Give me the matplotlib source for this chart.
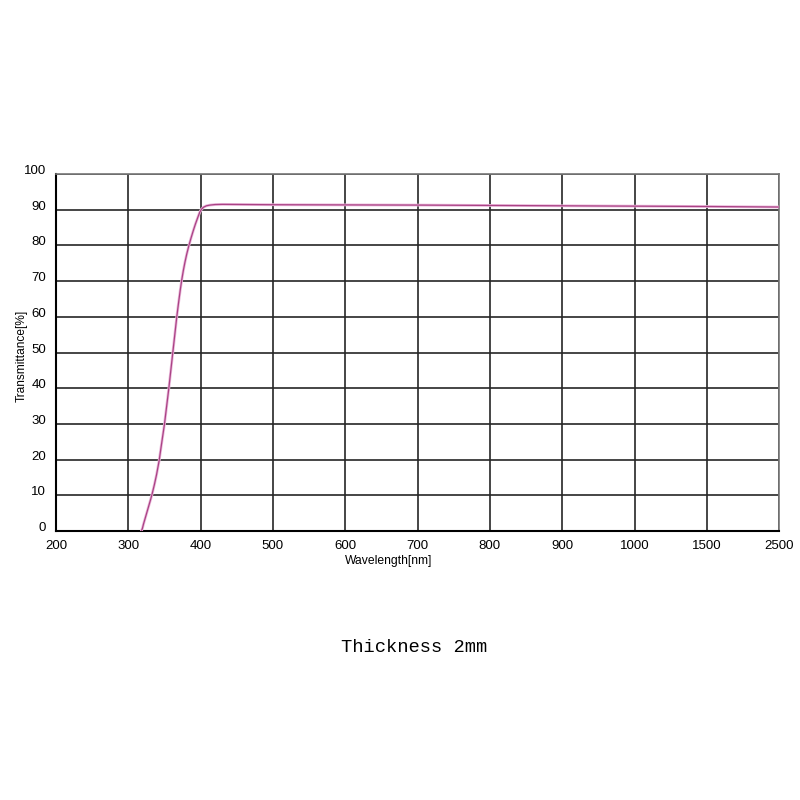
"""
Transmittance curve of a 2mm thick window, on an evenly spaced wavelength axis.
"""

import matplotlib
matplotlib.use('Agg')
import matplotlib.pyplot as plt
import matplotlib.transforms as mtransforms
import numpy as np

# axis ticks (evenly spaced on the chart, values are not linear)
tick_wavelengths = [200, 300, 400, 500, 600, 700, 800, 900, 1000, 1500, 2500]
tick_labels = ['200', '300', '400', '500', '600', '700', '800', '900', '1000', '1500', '2500']
y_ticks = [0, 10, 20, 30, 40, 50, 60, 70, 80, 90, 100]

# curve
wavelength = [318, 319.5, 321, 323, 325, 327, 329, 331, 333, 336, 339, 342.5,
              346, 350, 356, 361.5, 367, 369.5, 371.8, 374, 376.1, 378.3,
              380.8, 383.8, 386.6, 389.6, 392.8, 396, 398.6, 401, 404, 408,
              413, 420, 430, 500, 600, 700, 800, 900, 1000, 1500, 2500]
transmittance = [0, 0.8, 2.0, 3.4, 4.8, 6.2, 7.6, 9.0, 10.5, 13, 15.8, 19.6,
                 24.5, 30, 40, 50, 60, 64, 67.5, 70.5, 73, 75.3,
                 77.6, 80, 82, 84, 86, 87.8, 89.2, 90.1, 90.7, 91.1,
                 91.3, 91.45, 91.5, 91.4, 91.35, 91.3, 91.2, 91.1, 91.0, 90.9, 90.75]


def forward(x):
    return np.interp(x, tick_wavelengths, np.arange(len(tick_wavelengths)))


def inverse(x):
    return np.interp(x, np.arange(len(tick_wavelengths)), tick_wavelengths)


fig = plt.figure(figsize=(8, 8), dpi=100)
ax = fig.add_axes([0.07, 0.336, 0.904, 0.4465])

ax.set_xscale('function', functions=(forward, inverse))
ax.set_xlim(200, 2500)
ax.set_ylim(0, 100)

ax.set_xticks(tick_wavelengths)
ax.set_xticklabels(tick_labels, fontsize=9.5, family='Liberation Sans')
ax.set_yticks(y_ticks)
ax.set_yticklabels([str(v) for v in y_ticks], fontsize=9.5, family='Liberation Sans')
ax.tick_params(axis='both', length=0)
ax.tick_params(axis='x', pad=6)
ax.tick_params(axis='y', pad=7)

# y labels sit just above their grid line
shift = mtransforms.ScaledTranslation(0, 0.045, fig.dpi_scale_trans)
for lab in ax.get_yticklabels():
    lab.set_transform(lab.get_transform() + shift)

ax.grid(True, color='#262626', linewidth=1.2)
ax.set_axisbelow(True)

for side in ['left', 'bottom']:
    ax.spines[side].set_color('black')
    ax.spines[side].set_linewidth(1.5)
for side in ['top', 'right']:
    ax.spines[side].set_color('#777777')
    ax.spines[side].set_linewidth(1.2)

# soft pink halo with darker core, like the scanned curve
ax.plot(wavelength, transmittance, color='#eab8da', linewidth=2.0, solid_capstyle='round', zorder=3)
ax.plot(wavelength, transmittance, color='#aa4285', linewidth=0.9, zorder=4)

ax.set_xlabel('Wavelength[nm]', fontsize=8.7, family='Liberation Sans')
ax.xaxis.set_label_coords(0.46, -0.068)
ax.set_ylabel('Transmittance[%]', fontsize=8.6, family='Liberation Sans')
ax.yaxis.set_label_coords(-0.039, 0.49)

fig.text(0.5175, 0.19, 'Thickness 2mm', fontsize=13.5, family='Liberation Mono',
         ha='center', va='center')

plt.savefig('out.png', dpi=100)
plt.close()
